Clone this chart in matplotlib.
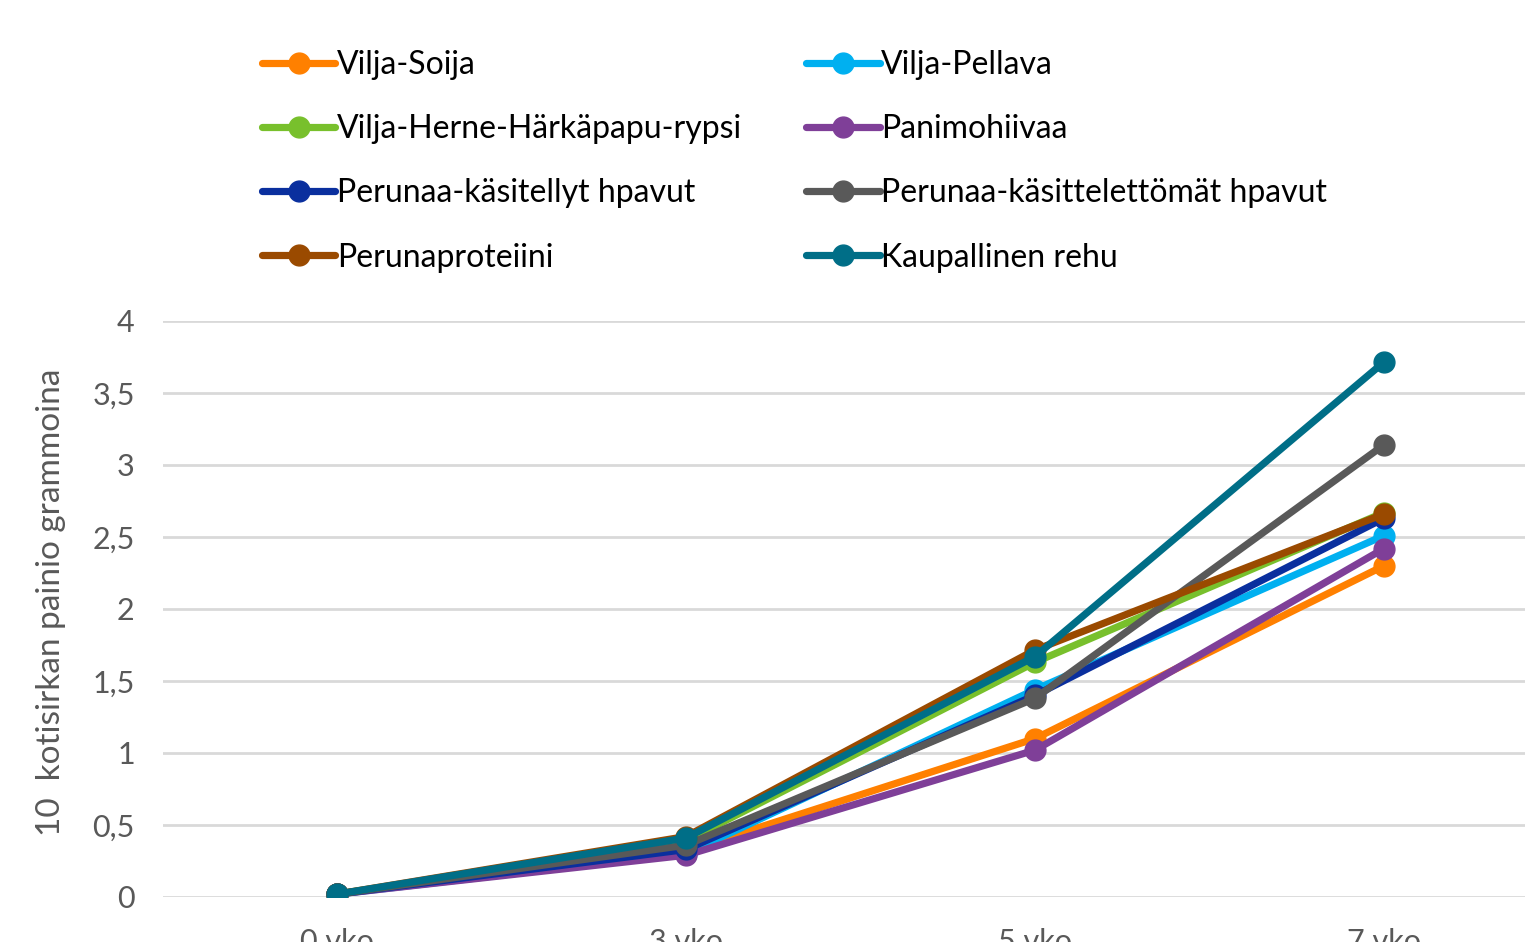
import matplotlib
matplotlib.use("Agg")
import matplotlib.pyplot as plt
from matplotlib.ticker import FuncFormatter

categories = ["0 vko", "3 vko", "5 vko", "7 vko"]
series_names = ["Vilja-Soija", "Vilja-Pellava", "Vilja-Herne-Härkäpapu-rypsi", "Panimohiivaa",
                "Perunaa-käsitellyt hpavut", "Perunaa-käsittelettömät hpavut", "Perunaproteiini",
                "Kaupallinen rehu"]
vilja_soija = [0.02, 0.32, 1.10, 2.30]
vilja_pellava = [0.02, 0.30, 1.44, 2.51]
vilja_herne = [0.02, 0.39, 1.63, 2.67]
panimohiivaa = [0.02, 0.29, 1.02, 2.42]
perunaa_kasitellyt = [0.02, 0.33, 1.40, 2.63]
perunaa_kasittelemattomat = [0.02, 0.36, 1.38, 3.14]
perunaproteiini = [0.02, 0.42, 1.715, 2.66]
kaupallinen = [0.02, 0.41, 1.67, 3.715]
colors = ["#FF8000", "#00B0F0", "#78C02C", "#7F3F98", "#0A2F9E", "#595959", "#9A4A00", "#006E87"]

values = [vilja_soija, vilja_pellava, vilja_herne, panimohiivaa, perunaa_kasitellyt,
          perunaa_kasittelemattomat, perunaproteiini, kaupallinen]

plt.rcParams['font.family'] = ['Lato', 'DejaVu Sans']
fig = plt.figure(figsize=(15.25, 9.42), dpi=100)
ax = fig.add_axes([162.5/1525, 45/942, (1558.5-162.5)/1525, (897-321)/942])

x = list(range(len(categories)))
handles = []
for name, vals, c in zip(series_names, values, colors):
    h, = ax.plot(x, vals, color=c, lw=5.2, marker='o', ms=15, label=name,
                 solid_capstyle='round', solid_joinstyle='round')
    handles.append(h)

ax.set_xlim(-0.5, 3.5)
ax.set_ylim(0, 4)
ax.set_yticks([0, 0.5, 1, 1.5, 2, 2.5, 3, 3.5, 4])
ax.yaxis.set_major_formatter(FuncFormatter(lambda v, p: ("%g" % v).replace('.', ',')))
ax.set_xticks(x)
ax.set_xticklabels(categories)
ax.grid(axis='y', color='#d9d9d9', lw=2)
ax.set_axisbelow(True)
for s in ax.spines.values():
    s.set_visible(False)
ax.tick_params(axis='both', length=0, colors='#595959', labelsize=22)
ax.tick_params(axis='y', pad=20)
ax.tick_params(axis='x', pad=22)
ax.set_ylabel("10  kotisirkan painio grammoina", fontsize=24, color='#595959')
ax.yaxis.set_label_coords(-(162.5 - 66) / (1558.5 - 162.5), (897 - 602) / (897 - 321))

order = [0, 2, 4, 6, 1, 3, 5, 7]
fig.legend([handles[i] for i in order], [series_names[i] for i in order],
           ncol=2, loc='upper left', bbox_to_anchor=(262/1525, 1 - 50/942),
           frameon=False, fontsize=23, handlelength=2.3, handletextpad=0.05,
           columnspacing=2.0, labelspacing=1.07, borderpad=0, borderaxespad=0)

fig.savefig("out.png", dpi=100)
